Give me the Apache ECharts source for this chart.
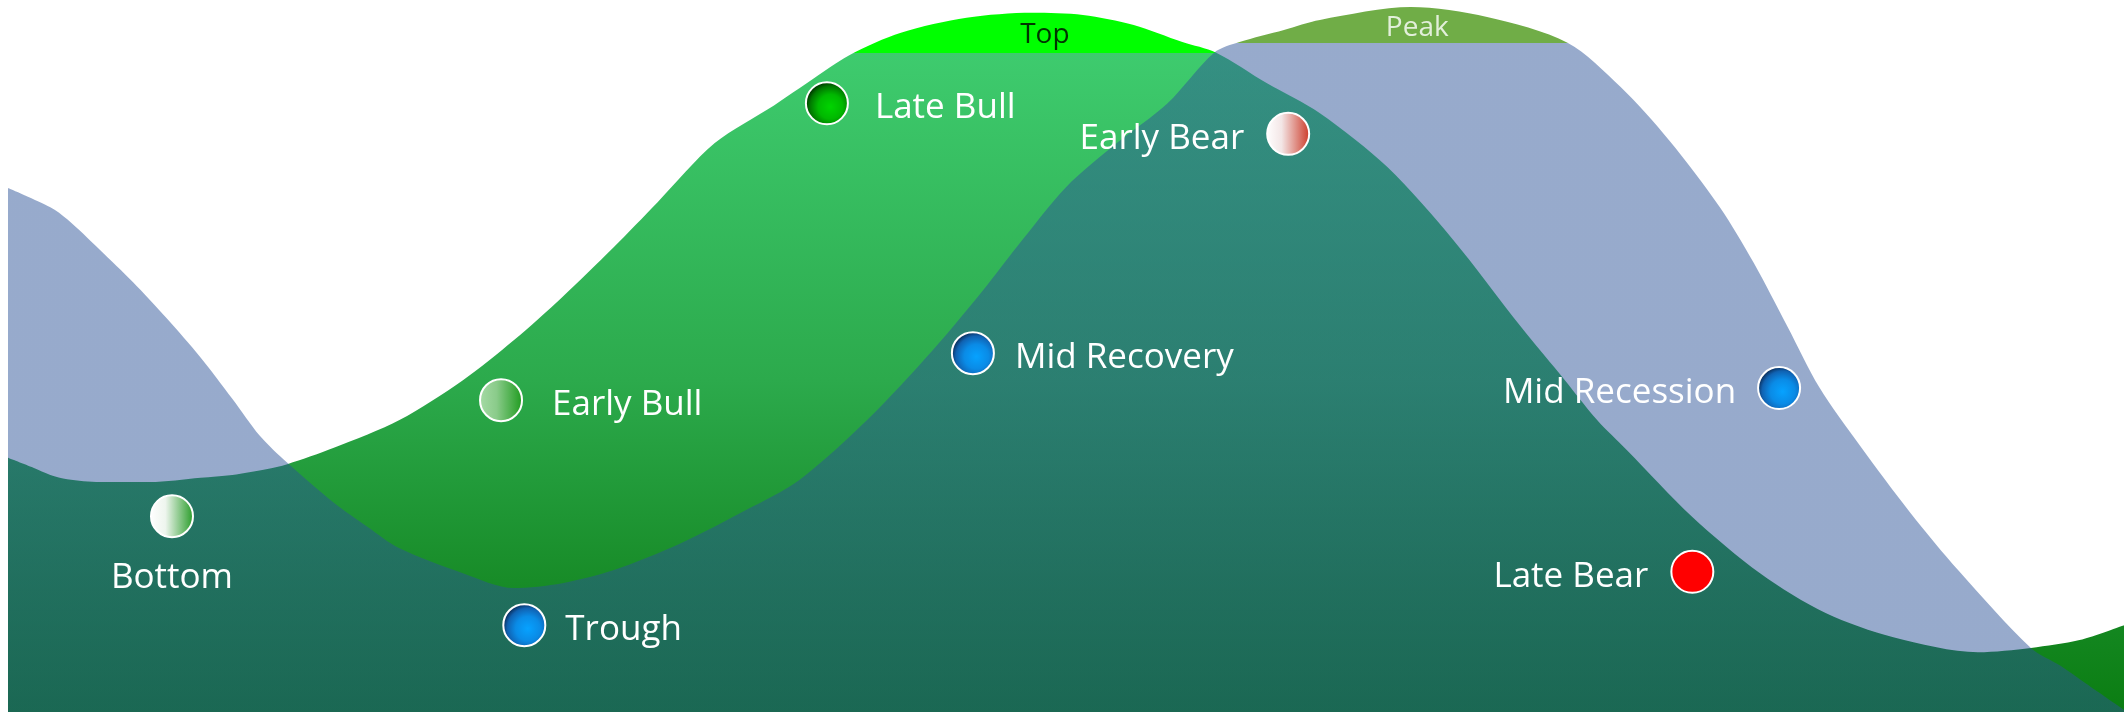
<!DOCTYPE html>
<html>
<head>
<meta charset="utf-8">
<script src="https://cdn.jsdelivr.net/npm/echarts@6/dist/echarts.min.js"></script>
<style>
html,body{margin:0;padding:0;background:#ffffff;}
#chart{width:2124px;height:712px;}
</style>
</head>
<body>
<div id="chart"></div>
<script>
// ---------------- DATA ----------------
// Horizontal: position in the cycle (0-100). Vertical: level (0-100).
const economyX = [0, 2.0, 2.8, 4.35, 5.9, 7.5, 9.1, 10.6, 11.9, 13.2, 15.4, 17.0, 18.5, 21.5, 23.9, 26.2, 28.6, 31.8, 34.9, 37.4, 40.6, 43.7, 46.1, 47.7, 50.0, 52.4, 54.8, 57.0, 58.2, 60.3, 62.0, 66.3, 69.9, 73.7, 76.2, 78.5, 80.9, 82.5, 84.1, 85.6, 87.5, 89.9, 92.2, 95.6, 97.0, 98.2, 100];
const economyLevel = [73.6, 70.9, 69.2, 64.9, 60.4, 55.3, 49.8, 44.0, 38.8, 35.0, 29.4, 26.0, 23.0, 19.5, 17.4, 18.1, 19.9, 23.7, 28.4, 32.6, 41.0, 50.8, 59.3, 65.4, 73.7, 79.9, 85.5, 92.6, 94.1, 95.8, 97.2, 99.0, 97.6, 94.0, 87.8, 80.3, 70.9, 63.1, 54.1, 45.6, 37.5, 28.0, 19.8, 9.0, 6.5, 4.0, 0.3];

const marketX = [0, 1.2, 2.0, 2.8, 4.35, 6.7, 9.1, 10.6, 12.2, 13.2, 15.4, 18.5, 21.5, 23.9, 26.2, 28.6, 30.7, 33.4, 36.2, 37.4, 39.8, 42.2, 45.3, 48.4, 50.8, 53.2, 55.5, 57.1, 59.5, 62.0, 65.2, 68.3, 71.5, 73.3, 75.1, 76.5, 79.6, 82.8, 85.9, 89.1, 93.1, 95.6, 97.9, 100];
const marketLevel = [35.7, 34.3, 33.3, 32.7, 32.3, 32.3, 32.9, 33.3, 34.1, 34.8, 37.1, 41.0, 46.6, 52.2, 58.3, 65.2, 71.6, 79.9, 85.2, 87.6, 92.3, 95.4, 97.5, 98.2, 97.9, 96.5, 94.1, 92.6, 88.3, 84.1, 76.5, 66.3, 54.1, 47.6, 41.0, 36.8, 27.4, 19.5, 13.9, 10.5, 8.4, 9.0, 10.1, 12.2];

const stageNames = ['Bottom', 'Trough', 'Early Bull', 'Late Bull', 'Mid Recovery', 'Early Bear', 'Mid Recession', 'Late Bear'];
const stageX = [7.75, 24.4, 23.3, 38.7, 45.6, 60.5, 83.7, 79.6];
const stageLevel = [27.5, 12.2, 43.8, 85.5, 50.4, 81.2, 45.5, 19.7];

const capNames = ['Top', 'Peak'];
const capX = [49.0, 66.6];
const capLevel = [95.4, 96.3];
const topCapFrom = 92.6;   // market level above which the "Top" cap is drawn
const peakCapFrom = 94.0;  // economy level above which the "Peak" cap is drawn

// ---------------- STYLES ----------------
const FONT = '"Open Sans", "Noto Sans", sans-serif';
const G = echarts.graphic;
const lin = (stops) => new G.LinearGradient(0, 0, 1, 0, stops.map(c => ({offset: c[0], color: c[1]})));
const rad = (stops) => new G.RadialGradient(0.58, 0.58, 0.62, stops.map(c => ({offset: c[0], color: c[1]})));
const blueBall = () => rad([[0, '#06a2ff'], [0.45, '#0a8be6'], [0.75, '#1062b2'], [0.93, '#0a2a55'], [1, '#000000']]);
const stageFill = {
  'Bottom': lin([[0, '#ffffff'], [0.35, '#eef5ee'], [1, '#249a24']]),
  'Trough': blueBall(),
  'Early Bull': lin([[0, '#a6dba6'], [0.4, '#8acb8a'], [1, '#1c9a1c']]),
  'Late Bull': rad([[0, '#00d400'], [0.45, '#00b800'], [0.75, '#007800'], [0.93, '#003000'], [1, '#000000']]),
  'Mid Recovery': blueBall(),
  'Early Bear': lin([[0, '#ffffff'], [0.35, '#f3e6e6'], [1, '#cc3826']]),
  'Mid Recession': blueBall(),
  'Late Bear': '#ff0000'
};
const stageLabel = {
  'Bottom': {position: 'bottom', distance: 17},
  'Trough': {position: 'right', distance: 19},
  'Early Bull': {position: 'right', distance: 29},
  'Late Bull': {position: 'right', distance: 26},
  'Mid Recovery': {position: 'right', distance: 20},
  'Early Bear': {position: 'left', distance: 22},
  'Mid Recession': {position: 'left', distance: 21},
  'Late Bear': {position: 'left', distance: 22}
};
const capColor = {'Top': '#000000', 'Peak': '#ffffff'};

const chart = echarts.init(document.getElementById('chart'), null, {renderer: 'canvas'});

const areaSeries = (id, xs, ys, z) => ({
  id: id,
  type: 'line',
  data: xs.map((x, i) => [x, ys[i]]),
  smooth: 0.3,
  showSymbol: false,
  symbol: 'none',
  lineStyle: {width: 0, opacity: 0},
  areaStyle: {opacity: 1, color: '#cccccc'},
  z: z,
  silent: true
});

const option = {
  animation: false,
  grid: {left: 8, right: 0, top: 0, bottom: 0, containLabel: false},
  xAxis: {type: 'value', min: 0, max: 100, show: false},
  yAxis: {type: 'value', min: 0, max: 100, show: false},
  series: [
    areaSeries('market', marketX, marketLevel, 1),
    areaSeries('economy', economyX, economyLevel, 2),
    {
      id: 'stages',
      type: 'scatter',
      z: 5,
      symbol: 'circle',
      symbolSize: 42,
      itemStyle: {borderColor: '#ffffff', borderWidth: 2, opacity: 1},
      label: {show: true, formatter: '{b}', color: '#ffffff', fontSize: 35, fontFamily: FONT, offset: [0, 5]},
      data: stageNames.map((n, i) => ({
        name: n,
        value: [stageX[i], stageLevel[i]],
        itemStyle: {color: stageFill[n]},
        label: stageLabel[n]
      }))
    },
    {
      id: 'caps',
      type: 'scatter',
      z: 6,
      symbolSize: 1,
      itemStyle: {color: 'rgba(0,0,0,0)'},
      label: {show: true, position: 'inside', formatter: '{b}', fontSize: 28, fontFamily: FONT, offset: [0, 2]},
      data: capNames.map((n, i) => ({
        name: n,
        value: [capX[i], capLevel[i]],
        label: {color: capColor[n]}
      }))
    }
  ]
};
chart.setOption(option);

// Gradients in chart pixel space, derived from the axes
const yPix = (lvl) => chart.convertToPixel({gridIndex: 0}, [0, lvl])[1];
const baseY = yPix(0);
const tTop = yPix(topCapFrom) / baseY;
const tPeak = yPix(peakCapFrom) / baseY;
const tMid = yPix(46.6) / baseY;
const tLow = yPix(18.5) / baseY;
const blueVeil = 'rgba(43,82,151,0.49)';

chart.setOption({
  series: [
    {id: 'market', areaStyle: {opacity: 1, color: new G.LinearGradient(0, 0, 0, baseY, [
      {offset: 0, color: '#00ff00'}, {offset: tTop, color: '#00ff00'},
      {offset: tTop, color: '#3ecb6e'}, {offset: tMid, color: '#2caa4c'},
      {offset: tLow, color: '#188c28'}, {offset: 1, color: '#0b7d12'}
    ], true)}},
    {id: 'economy', areaStyle: {opacity: 1, color: new G.LinearGradient(0, 0, 0, baseY, [
      {offset: 0, color: '#70ad47'}, {offset: tPeak, color: '#70ad47'},
      {offset: tPeak, color: blueVeil}, {offset: 1, color: blueVeil}
    ], true)}}
  ]
});
</script>
</body>
</html>
